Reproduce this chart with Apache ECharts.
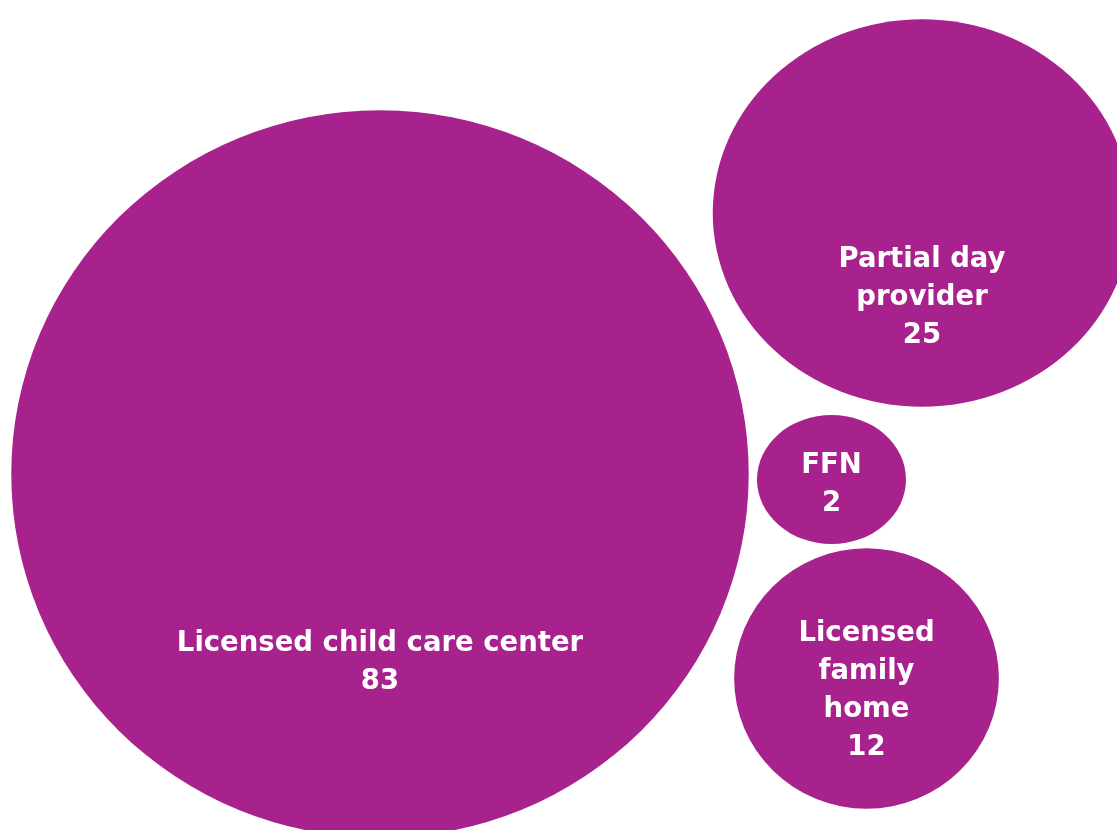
<!DOCTYPE html>
<html>
<head>
<meta charset="utf-8">
<script src="https://cdn.jsdelivr.net/npm/echarts@6/dist/echarts.min.js"></script>
<style>
  html, body { margin: 0; padding: 0; background: #ffffff; }
  #chart { width: 1117px; height: 830px; }
</style>
</head>
<body>
<div id="chart"></div>
<script>
// Provider types and number of providers of each type
const categories = ['Licensed child care center', 'Partial day provider', 'FFN', 'Licensed family home'];
const labelLines = [['Licensed child care center'], ['Partial day', 'provider'], ['FFN'], ['Licensed', 'family', 'home']];
const counts = [83, 25, 2, 12];

// Bubble layout: centres in layout units (0-1117 across, 0-830 down)
const centerX = [380, 922, 831.5, 866.5];
const centerY = [474, 213, 479.5, 678.5];
// Per-bubble horizontal stretch and how far each label sits below its centre
const stretchX = [1.014, 1.08, 1.155, 1.016];
const labelDrop = [189, 85, 5, 12];

const BUBBLE_COLOR = '#a8228e';
const MIN_RADIUS = 64.5;

// Bubble radius grows with the square root of the count, with a floor for tiny counts
function radiusFor(v) {
  return Math.max(MIN_RADIUS, 41.33 * Math.sqrt(v) - 12.9);
}

const chart = echarts.init(document.getElementById('chart'), null, { renderer: 'canvas' });

const seriesData = counts.map((v, i) => ({
  name: categories[i],
  value: [centerX[i], centerY[i], v],
  label: { offset: [0, labelDrop[i]] }
}));

chart.setOption({
  animation: false,
  backgroundColor: '#ffffff',
  grid: { left: 0, right: 0, top: 0, bottom: 0 },
  xAxis: { type: 'value', min: 0, max: 1117, show: false },
  yAxis: { type: 'value', min: 0, max: 830, inverse: true, show: false },
  series: [{
    type: 'scatter',
    symbol: 'circle',
    clip: false,
    data: seriesData,
    symbolSize: function (val, params) {
      const i = params.dataIndex;
      const r = radiusFor(val[2]);
      return [2 * r * stretchX[i], 2 * r];
    },
    itemStyle: { color: BUBBLE_COLOR, opacity: 1 },
    emphasis: { disabled: true },
    label: {
      show: true,
      position: 'inside',
      color: '#ffffff',
      fontFamily: 'DejaVu Sans',
      fontWeight: 'bold',
      fontSize: 27.5,
      lineHeight: 38,
      align: 'center',
      formatter: function (p) {
        return labelLines[p.dataIndex].concat(String(p.value[2])).join('\n');
      }
    }
  }]
});
</script>
</body>
</html>
